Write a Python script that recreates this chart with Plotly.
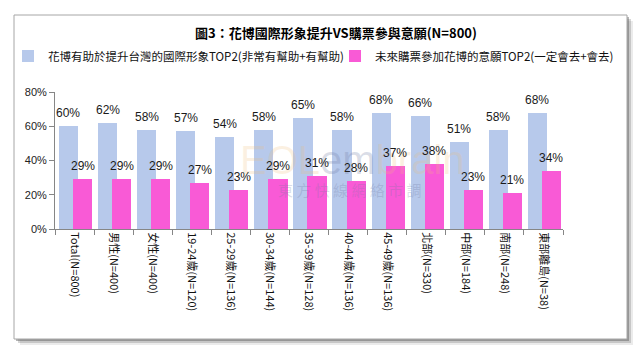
import plotly.graph_objects as go

categories = ["Total(N=800)", "男性(N=400)", "女性(N=400)", "19-24歲(N=120)", "25-29歲(N=136)",
              "30-34歲(N=144)", "35-39歲(N=128)", "40-44歲(N=136)", "45-49歲(N=136)",
              "北部(N=330)", "中部(N=184)", "南部(N=248)", "東部離島(N=38)"]
image_top2 = [60, 62, 58, 57, 54, 58, 65, 58, 68, 66, 51, 58, 68]
visit_top2 = [29, 29, 29, 27, 23, 29, 31, 28, 37, 38, 23, 21, 34]
series_names = ["花博有助於提升台灣的國際形象TOP2(非常有幫助+有幫助)",
                "未來購票參加花博的意願TOP2(一定會去+會去)"]
title_text = "圖3：花博國際形象提升VS購票參與意願(N=800)"
y_ticks = [0, 20, 40, 60, 80]

# page offset of the plot div (browser body margin)
OX, OY = 8, 8
W, H = 644 - OX, 355 - OY
# plot area in window pixels: x 55..563, y 92..229
L, T = 55 - OX, 92 - OY
R = W - (563 - OX)
B = H - (229 - OY)
PW, PH = W - L - R, H - T - B

def px_x(px):
    return (px - OX - L) / PW

def px_y(py):
    return (H - B - (py - OY)) / PH

CJK = "Noto Sans CJK TC, Noto Sans CJK SC, sans-serif"
NUM = "Liberation Sans, Arial, sans-serif"

BAR_W = 0.49
OFFS = [-0.40, -0.04]
CAT_PX = PW / len(categories)

fig = go.Figure()
fig.add_trace(go.Bar(
    x=categories, y=image_top2, name=series_names[0],
    width=BAR_W, offset=OFFS[0], legend="legend",
    marker=dict(color="#b7c9eb", line=dict(width=0)),
))
fig.add_trace(go.Bar(
    x=categories, y=visit_top2, name=series_names[1],
    width=BAR_W, offset=OFFS[1], legend="legend2",
    marker=dict(color="#f95ad6", line=dict(width=0)),
))

shapes = []
for off, op in [(6, 0.12), (4, 0.25), (2, 0.45)]:
    shapes.append(dict(type="rect", xref="paper", yref="paper", layer="below",
                       x0=px_x(14 + off), x1=px_x(627 + off), y0=px_y(339 + off), y1=px_y(15 + off),
                       fillcolor=f"rgba(90,90,90,{op})", line=dict(width=0)))
shapes.append(dict(type="rect", xref="paper", yref="paper", layer="below",
                   x0=px_x(14), x1=px_x(627), y0=px_y(339), y1=px_y(15),
                   fillcolor="white", line=dict(color="#a6a6a6", width=1)))

annotations = [
    dict(text=f"<b>{title_text}</b>", xref="paper", yref="paper", x=px_x(336), y=px_y(33),
         xanchor="center", yanchor="middle", showarrow=False,
         font=dict(family=CJK, size=13, color="#000000")),
    dict(text='<span style="color:rgba(240,190,120,0.22)">EOL</span>'
              '<span style="color:rgba(110,120,160,0.25)">em</span>'
              '<span style="color:rgba(240,190,120,0.22)">brain</span>',
         xref="paper", yref="paper", x=px_x(352), y=px_y(160), xanchor="center", yanchor="middle",
         showarrow=False, font=dict(family="Liberation Sans, Arial", size=40)),
    dict(text="東 方 快 線 網 絡 市 調", xref="paper", yref="paper", x=px_x(350), y=px_y(189),
         xanchor="center", yanchor="middle", showarrow=False,
         font=dict(family=CJK, size=15, color="rgba(110,120,160,0.25)")),
]

for vals, off in [(image_top2, OFFS[0]), (visit_top2, OFFS[1])]:
    shift = (off + BAR_W / 2) * CAT_PX
    for cat, v in zip(categories, vals):
        annotations.append(dict(
            x=cat, y=v, xref="x", yref="y", text=f"{v}%", showarrow=False,
            xanchor="center", yanchor="middle", xshift=shift, yshift=13,
            font=dict(family=NUM, size=12, color="#1a1a1a")))

fig.update_layout(
    width=W, height=H,
    margin=dict(l=L, r=R, t=T, b=B, pad=0, autoexpand=False),
    paper_bgcolor="white", plot_bgcolor="rgba(0,0,0,0)",
    barmode="overlay", bargap=0,
    showlegend=True,
    legend=dict(orientation="h", xref="container", yref="container",
                x=(0 - OX) / W, y=1 - (56 - OY) / H, xanchor="left", yanchor="middle",
                font=dict(family=CJK, size=11.5, color="#111111"), itemwidth=30,
                bgcolor="rgba(0,0,0,0)"),
    legend2=dict(orientation="h", xref="container", yref="container",
                 x=(335 - OX) / W, y=1 - (56 - OY) / H, xanchor="left", yanchor="middle",
                 font=dict(family=CJK, size=11.5, color="#111111"), itemwidth=30,
                 bgcolor="rgba(0,0,0,0)"),
    shapes=shapes, annotations=annotations,
    font=dict(family=CJK, color="#222222"),
)
fig.update_xaxes(
    type="category", showline=True, linecolor="#868686", linewidth=1,
    ticks="outside", tickson="boundaries", ticklen=5, tickcolor="#868686",
    tickangle=90, tickfont=dict(family=CJK, size=11, color="#111111"),
    showgrid=False, zeroline=False, range=[-0.5, len(categories) - 0.5], automargin=False,
)
fig.update_yaxes(
    range=[0, 80], tickvals=y_ticks, ticktext=[f"{v}%" for v in y_ticks],
    showline=True, linecolor="#868686", linewidth=1,
    ticks="outside", ticklen=5, tickcolor="#868686",
    tickfont=dict(family=NUM, size=11, color="#222222"),
    showgrid=False, zeroline=False, automargin=False,
)

fig.write_html("out.html")
